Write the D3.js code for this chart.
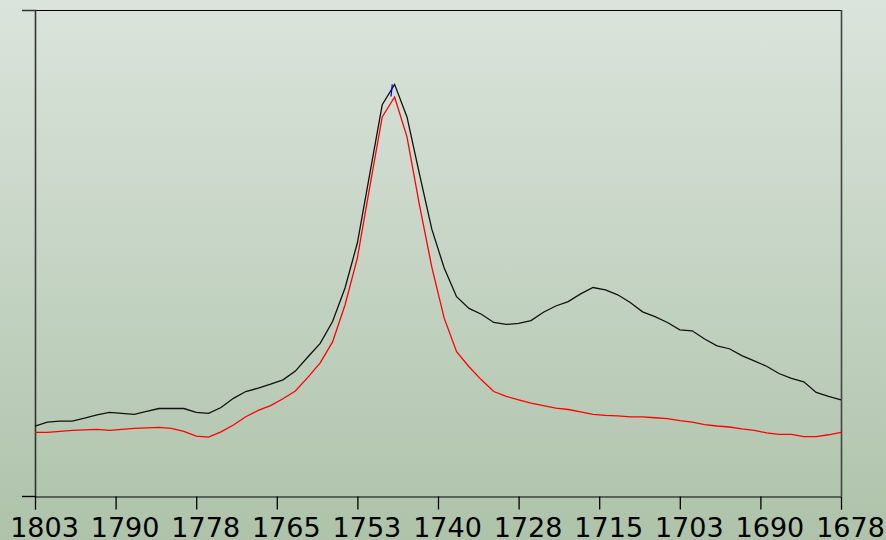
<!DOCTYPE html>
<html>
<head>
<meta charset="utf-8">
<script src="https://cdn.jsdelivr.net/npm/d3@7"></script>
<style>
  html, body { margin: 0; padding: 0; }
  body { width: 886px; height: 540px; overflow: hidden; }
</style>
</head>
<body>
<svg id="chart" width="886" height="540"></svg>
<script>
// Wavenumbers (cm-1)
const wavenumbers = [1803.00,1801.08,1799.15,1797.23,1795.31,1793.38,1791.46,1789.54,1787.62,1785.69,
  1783.77,1781.85,1779.92,1778.00,1776.08,1774.15,1772.23,1770.31,1768.38,1766.46,
  1764.54,1762.62,1760.69,1758.77,1756.85,1754.92,1753.00,1751.08,1749.15,1747.23,
  1745.31,1743.38,1741.46,1739.54,1737.62,1735.69,1733.77,1731.85,1729.92,1728.00,
  1726.08,1724.15,1722.23,1720.31,1718.38,1716.46,1714.54,1712.62,1710.69,1708.77,
  1706.85,1704.92,1703.00,1701.08,1699.15,1697.23,1695.31,1693.38,1691.46,1689.54,
  1687.62,1685.69,1683.77,1681.85,1679.92,1678.00];

// Black spectrum
const blackSeries = [14.4,15.2,15.4,15.4,16.0,16.7,17.2,17.0,16.8,17.4,
  18.0,18.0,18.0,17.2,17.0,18.2,20.1,21.5,22.2,23.0,
  23.9,25.7,28.6,31.4,35.9,42.8,52.1,66.3,80.5,84.7,
  78.0,66.3,54.9,46.9,41.0,38.6,37.4,35.7,35.3,35.5,
  36.1,37.8,39.1,40.0,41.6,42.9,42.4,41.4,39.8,37.9,
  36.9,35.7,34.2,34.0,32.3,30.9,30.3,28.9,27.8,26.7,
  25.2,24.2,23.5,21.3,20.5,19.8];

// Red spectrum
const redSeries = [13.1,13.1,13.3,13.5,13.6,13.7,13.5,13.7,13.9,14.0,
  14.1,13.9,13.3,12.3,12.1,13.2,14.6,16.3,17.6,18.6,
  20.0,21.6,24.4,27.4,31.7,39.3,49.0,63.6,78.0,82.1,
  73.9,59.9,47.1,36.6,29.7,26.6,23.9,21.5,20.5,19.8,
  19.1,18.6,18.1,17.8,17.3,16.8,16.6,16.5,16.3,16.3,
  16.1,15.9,15.5,15.2,14.7,14.4,14.2,13.8,13.5,13.0,
  12.7,12.7,12.2,12.2,12.6,13.1];

// Peak marker (blue)
const markerX = [1747.59, 1747.79];
const markerY = [84.7, 82.2];

// Axis ticks
const xTickValues = [1803, 1790.5, 1778, 1765.5, 1753, 1740.5, 1728, 1715.5, 1703, 1690.5, 1678];
const xTickLabels = ["1803","1790","1778","1765","1753","1740","1728","1715","1703","1690","1678"];

(function () {
const svg = d3.select("#chart");
const W = 886, H = 540;
const mLeft = 35, mRight = 841, mTop = 10, mBottom = 496;

// Background gradient
const defs = svg.append("defs");
const grad = defs.append("linearGradient").attr("id", "bg")
  .attr("x1", 0).attr("y1", 0).attr("x2", 0).attr("y2", 1);
grad.append("stop").attr("offset", "0%").attr("stop-color", "#dbe4dc");
grad.append("stop").attr("offset", "100%").attr("stop-color", "#aec3aa");
svg.append("rect").attr("width", W).attr("height", H).attr("fill", "url(#bg)");

const x = d3.scaleLinear().domain([1803, 1678]).range([mLeft, mRight]);
const y = d3.scaleLinear().domain([0, 100]).range([mBottom, mTop]);

// Frame: top and right
svg.append("line").attr("x1", mLeft - 1).attr("x2", mRight + 1)
  .attr("y1", mTop + 0.5).attr("y2", mTop + 0.5)
  .attr("stroke", "#000").attr("stroke-width", 1);
svg.append("line").attr("x1", mRight + 0.5).attr("x2", mRight + 0.5)
  .attr("y1", mTop).attr("y2", mBottom)
  .attr("stroke", "#444").attr("stroke-width", 1.6);

// Left axis
const yAxis = d3.axisLeft(y).tickValues([0]).tickSize(13).tickFormat("");
const gy = svg.append("g").attr("transform", `translate(${mLeft},0)`).call(yAxis);
gy.select(".domain").attr("stroke", "#333").attr("stroke-width", 1.6);
gy.selectAll(".tick line").attr("stroke", "#000");

// Bottom axis
const xAxis = d3.axisBottom(x).tickValues(xTickValues).tickSize(13).tickPadding(8.5)
  .tickFormat((d, i) => xTickLabels[i]);
const gx = svg.append("g").attr("transform", `translate(0,${mBottom + 0.5})`).call(xAxis);
gx.select(".domain").attr("stroke", "#000").attr("stroke-width", 1);
gx.selectAll(".tick line").attr("stroke", "#000").attr("stroke-width", 1.3);
gx.selectAll(".tick text")
  .attr("font-family", "'DejaVu Sans', Verdana, sans-serif")
  .attr("font-size", 27)
  .attr("fill", "#000")
  .attr("dx", 9);

const line = d3.line().x(d => x(d[0])).y(d => y(d[1]));

svg.append("path")
  .datum(wavenumbers.map((w, i) => [w, blackSeries[i]]))
  .attr("d", line).attr("fill", "none")
  .attr("stroke", "#111").attr("stroke-width", 1.3);

svg.append("path")
  .datum(wavenumbers.map((w, i) => [w, redSeries[i]]))
  .attr("d", line).attr("fill", "none")
  .attr("stroke", "#ff0000").attr("stroke-width", 1.3);

svg.append("path")
  .datum(markerX.map((w, i) => [w, markerY[i]]))
  .attr("d", line).attr("fill", "none")
  .attr("stroke", "#0000ee").attr("stroke-width", 1.3);
})();
</script>
</body>
</html>
